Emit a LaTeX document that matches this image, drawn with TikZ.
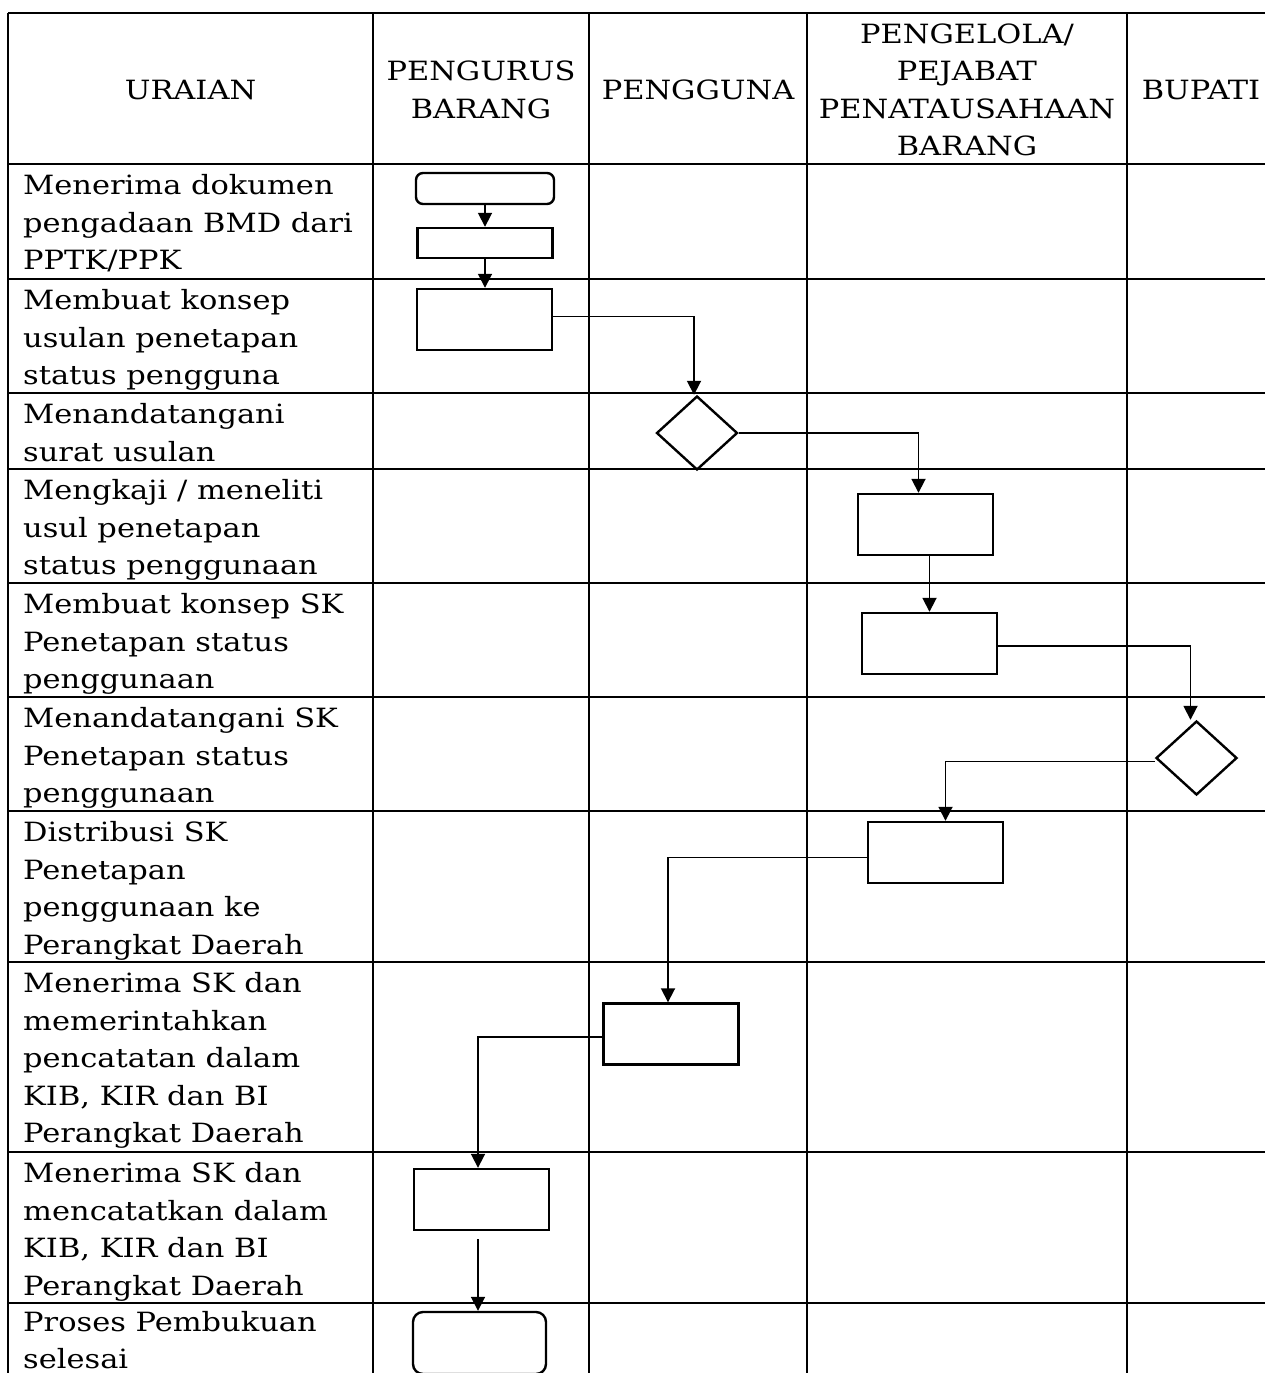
\documentclass[tikz,border=0pt]{standalone}
\usepackage{fontspec}
\setmainfont{DejaVu Serif}[FakeStretch=1.15]
\usetikzlibrary{positioning,shapes.geometric,arrows.meta}

\begin{document}
\begin{tikzpicture}[x=1pt, y=-1pt, font=\fontsize{26.5}{37.5}\selectfont,
    line width=2.4pt, >={Triangle[length=14pt,width=14pt]},
    box/.style={draw, rectangle, minimum width=135, minimum height=61,
      inner sep=0},
    term/.style={box, rounded corners=7},
    dec/.style={draw, diamond, minimum width=81, minimum height=74, inner sep=0},
    flow/.style={->, line width=1.8pt},
    txt/.style={anchor=north west, align=left, inner sep=0},
    head/.style={align=center, inner sep=0}]
    \clip (0,0) rectangle (1265,1373);%
    \fill[white] (0,0) rectangle (1265,1373);%
    % table
    \foreach \y in {13,164,279,393,469,583,697,811,962,1152,1303}%
      \draw (8,\y) -- (1265,\y);%
    \foreach \x in {8,373,589,807,1127}%
      \draw (\x,13) -- (\x,1373);%
    % header
    \node[head] (h1) at (190.5,90) {URAIAN};%
    \node[head] (h2) at (481,90) {PENGURUS\\BARANG};%
    \node[head] (h3) at (698,90) {PENGGUNA};%
    \node[head] (h4) at (967,90) {PENGELOLA/\\PEJABAT\\PENATAUSAHAAN\\BARANG};%
    \node[head] (h5) at (1201,90) {BUPATI};%
    % uraian
    \node[txt] (u1) at (22,173.5) {Menerima dokumen\\pengadaan BMD dari\\PPTK/PPK};%
    \node[txt] (u2) at (22,288.5) {Membuat konsep\\usulan penetapan\\status pengguna};%
    \node[txt] (u3) at (22,402.5) {Menandatangani\\surat usulan};%
    \node[txt] (u4) at (22,478.5) {Mengkaji / meneliti\\usul penetapan\\status penggunaan};%
    \node[txt] (u5) at (22,592.5) {Membuat konsep SK\\Penetapan status\\penggunaan};%
    \node[txt] (u6) at (22,706.5) {Menandatangani SK\\Penetapan status\\penggunaan};%
    \node[txt] (u7) at (22,820.5) {Distribusi SK\\Penetapan\\penggunaan ke\\Perangkat Daerah};%
    \node[txt] (u8) at (22,971.5) {Menerima SK dan\\memerintahkan\\pencatatan dalam\\KIB, KIR dan BI\\Perangkat Daerah};%
    \node[txt] (u9) at (22,1161.5) {Menerima SK dan\\mencatatkan dalam\\KIB, KIR dan BI\\Perangkat Daerah};%
    \node[txt] (u10) at (22,1310) {Proses Pembukuan\\selesai};%
    % flow
    \node[term, minimum width=138, minimum height=31] (t1) at (485,188.5) {};%
    \node[box, minimum height=30] (b1) at (485,243) {};%
    \node[box] (b2) at (484.5,319.5) {};%
    \node[dec] (d1) at (697,433) {};%
    \node[box] (p1) at (925.5,524.5) {};%
    \node[box] (p2) at (929.5,643.5) {};%
    \node[dec] (d2) at (1196.5,758) {};%
    \node[box] (p3) at (935.5,852.5) {};%
    \node[box] (g1) at (671,1034) {};%
    \node[box] (b3) at (481.5,1199.5) {};%
    \node[term, minimum width=133, minimum height=62, rounded corners=10] (t2)
      at (479.5,1343) {};%
    \draw[flow] (t1) -- (b1);%
    \draw[flow] (b1.south) -- (b1.south |- b2.north);%
    \draw[flow] ([yshift=3]b2.east) -| ([xshift=-3]d1.north);%
    \draw[flow] (d1.east) -| ([xshift=-7]p1.north);%
    \draw[flow] (p2.north |- p1.south) -- (p2.north);%
    \draw[flow] ([yshift=-2.5]p2.east) -| ([xshift=-6]d2.north);%
    \draw[flow] ([yshift=-3.5]d2.west) -| ([xshift=10]p3.north);%
    \draw[flow] ([yshift=-5]p3.west) -| ([xshift=-3]g1.north);%
    \draw[flow] ([yshift=-3]g1.west) -| ([xshift=-3.5]b3.north);%
    \draw[flow, shorten <=8] ([xshift=-3.5]b3.south) -- ([xshift=-1.5]t2.north);%
  \end{tikzpicture}
\end{document}
